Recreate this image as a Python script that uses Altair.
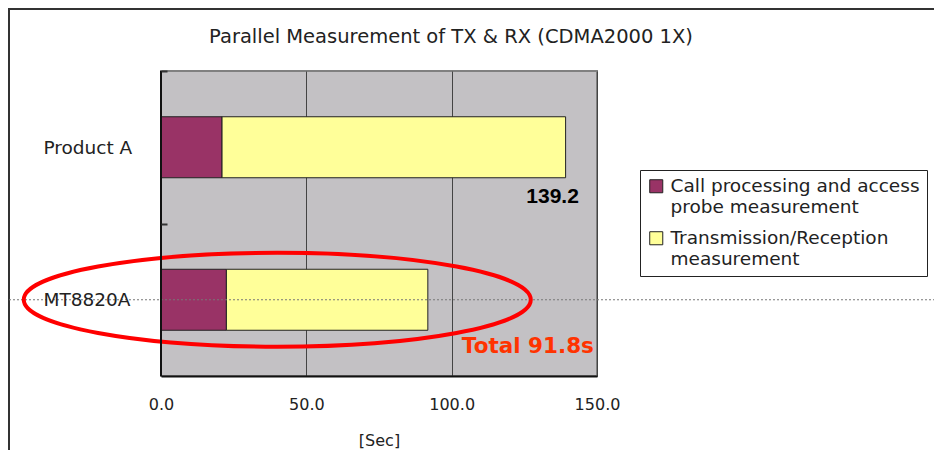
import altair as alt
import pandas as pd

# ---- data ----
categories = ["Product A", "MT8820A"]
series = ["Call processing and access probe measurement",
          "Transmission/Reception measurement"]
call_processing = [21.0, 22.5]
tx_rx = [118.2, 69.3]
totals = [139.2, 91.8]
x_ticks = [0, 50, 100, 150]
colors = ["#993366", "#FFFF99"]

# annotations
chart_title = ["Parallel Measurement of TX & RX (CDMA2000 1X)"]
total_labels = ["139.2", "Total 91.8s"]
ellipse_center = [40.0]          # x (sec) of the red ellipse around MT8820A
ellipse_category = ["MT8820A"]

rows = []
for i, c in enumerate(categories):
    rows.append({"category": c, "series": series[0], "value": call_processing[i], "order": 0})
    rows.append({"category": c, "series": series[1], "value": tx_rx[i], "order": 1})
df = pd.DataFrame(rows)

tot_df = pd.DataFrame({"category": categories, "total": totals, "label": total_labels})
ell_df = pd.DataFrame({"category": ellipse_category, "x": ellipse_center})
title_df = pd.DataFrame({"title": chart_title})

W, H = 436, 305
FONT = "DejaVu Sans"
TXT = "#222222"
HALF_STEP = 76.25   # half of a category step, to put ticks between categories

y_scale = alt.Scale(domain=categories, paddingInner=0.6, paddingOuter=0.3)
y_axis = alt.Axis(title=None, domain=False, ticks=True, tickSize=6,
                  tickColor="#333333", tickWidth=2, offset=-6, zindex=1,
                  tickOffset=-HALF_STEP, labelOffset=HALF_STEP,
                  labelAlign="left", labelPadding=118, labelFont=FONT,
                  labelFontSize=18.5, labelColor=TXT, grid=False)
x_scale = alt.Scale(domain=[0, 150], nice=False, zero=True)
x_axis = alt.Axis(values=x_ticks, format=".1f", title="[Sec]", ticks=False,
                  domainColor="#111111", domainWidth=2, grid=True,
                  gridColor="#444444", gridWidth=1, labelPadding=20, labelFlush=False,
                  labelFont=FONT, labelFontSize=16, labelColor=TXT,
                  titleFont=FONT, titleFontSize=16, titleFontWeight="normal",
                  titleColor=TXT, titlePadding=20)


def yenc():
    return alt.Y("category:N", sort=categories, scale=y_scale, axis=y_axis)


def xenc(field):
    return alt.X(field, scale=x_scale, axis=x_axis)


label_expr = ("datum.label == '" + series[0] + "' ? ['Call processing and access', 'probe measurement']"
              " : ['Transmission/Reception', 'measurement']")

bars = alt.Chart(df).mark_bar(stroke="#222222", strokeWidth=1).encode(
    x=alt.X("value:Q", stack="zero", scale=x_scale, axis=x_axis),
    y=yenc(),
    color=alt.Color("series:N", scale=alt.Scale(domain=series, range=colors),
                    legend=alt.Legend(title=None, orient="none", legendX=479, legendY=99,
                                      direction="vertical", symbolType="square",
                                      symbolSize=170, symbolStrokeColor="#222222",
                                      symbolStrokeWidth=1, labelExpr=label_expr,
                                      labelFont=FONT, labelFontSize=18.5, labelColor=TXT,
                                      labelLimit=0, strokeColor="#222222",
                                      fillColor="white", padding=7, rowPadding=12,
                                      labelOffset=5)),
    order=alt.Order("order:Q"),
)

val_text = alt.Chart(tot_df.iloc[[0]]).mark_text(
    font="Liberation Sans", fontSize=21, fontWeight="bold", color="#000000",
    align="center", baseline="middle", dx=-13, dy=50
).encode(x=xenc("total:Q"), y=yenc(), text="label:N")

tot_text = alt.Chart(tot_df.iloc[[1]]).mark_text(
    font=FONT, fontSize=21.5, fontWeight="bold", color="#FF3300",
    align="left", baseline="middle", dx=34, dy=47
).encode(x=xenc("total:Q"), y=yenc(), text="label:N")

ellipse = alt.Chart(ell_df).mark_point(
    shape="M -1 0 A 1 0.185 0 1 1 1 0 A 1 0.185 0 1 1 -1 0 Z",
    size=257049, filled=False, stroke="#FF0000", strokeWidth=4, opacity=1
).encode(x=xenc("x:Q"), y=yenc())

dotted = alt.Chart(ell_df).mark_rule(
    strokeDash=[2, 2], color="#777777", strokeWidth=1
).encode(y=yenc(), x=alt.value(-160), x2=alt.value(780))

left_edge = alt.Chart(title_df).mark_rule(color="#111111", strokeWidth=2).encode(
    x=alt.value(0), y=alt.value(0), y2=alt.value(H))

frame = alt.Chart(title_df).mark_rect(
    fill="transparent", stroke="#333333", strokeWidth=2
).encode(x=alt.value(-152), x2=alt.value(1200), y=alt.value(-62), y2=alt.value(1200))

title_text = alt.Chart(title_df).mark_text(
    font=FONT, fontSize=19.5, color=TXT, align="center", baseline="middle"
).encode(x=alt.value(290), y=alt.value(-34), text="title:N")

chart = alt.layer(frame, bars, dotted, ellipse, val_text, tot_text,
                  left_edge, title_text).properties(
    width=W, height=H,
    autosize=alt.AutoSizeParams(type="none"),
    padding={"left": 153, "top": 63, "right": 337, "bottom": 74},
    background="white",
).configure_view(fill="#C3C1C4", stroke="#808080", strokeWidth=2)

chart.save("out.html", embed_options={"renderer": "svg", "actions": False})
